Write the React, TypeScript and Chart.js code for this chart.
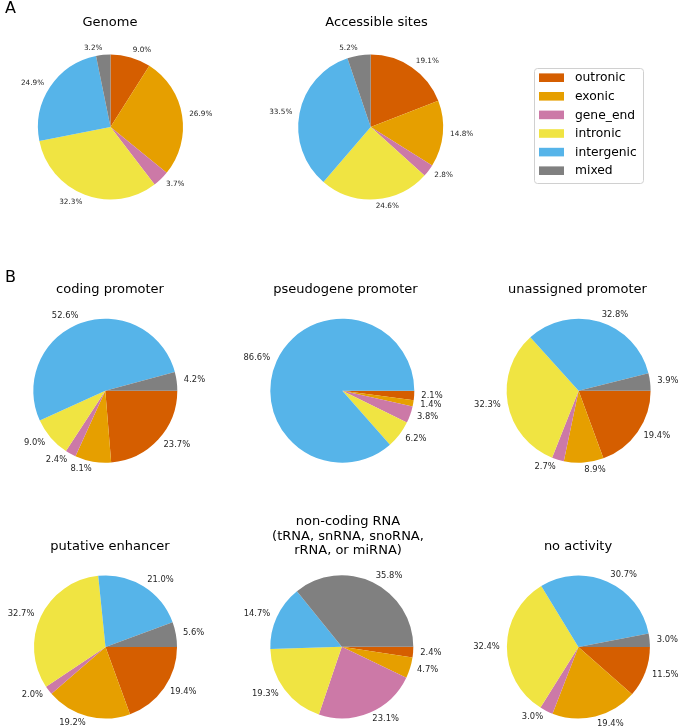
import React, { useEffect, useRef } from "react";
import { Chart, registerables } from "chart.js";

Chart.register(...registerables);

// ---------- data ----------
const categories = ["outronic", "exonic", "gene_end", "intronic", "intergenic", "mixed"];
const categoryColors = ["#D55E00", "#E69F00", "#CC79A7", "#F0E442", "#56B4E9", "#808080"];

const genome = [9.0, 26.9, 3.7, 32.3, 24.9, 3.2];
const accessibleSites = [19.1, 14.8, 2.8, 24.6, 33.5, 5.2];
const codingPromoter = [23.7, 8.1, 2.4, 9.0, 52.6, 4.2];
const pseudogenePromoter = [2.1, 1.4, 3.8, 6.2, 86.6, 0];
const unassignedPromoter = [19.4, 8.9, 2.7, 32.3, 32.8, 3.9];
const putativeEnhancer = [19.4, 19.2, 2.0, 32.7, 21.0, 5.6];
const nonCodingRna = [2.4, 4.7, 23.1, 19.3, 14.7, 35.8];
const noActivity = [11.5, 19.4, 3.0, 32.4, 30.7, 3.0];

// ---------- layout ----------
const W = 679;
const H = 726;
const FONT = "'DejaVu Sans', 'Liberation Sans', sans-serif";

type TextItem = { text: string; x: number; y: number; size: number };

type Panel = {
  id: string;
  data: number[];
  cx: number;
  cy: number;
  r: number;
  rotation: number;
  pctSize: number;
  texts: TextItem[];
  legend?: boolean;
};

const panels: Panel[] = [
  {
    id: "genome",
    data: genome,
    cx: 110.5,
    cy: 127,
    r: 72.5,
    rotation: 0,
    pctSize: 7.3,
    texts: [
      { text: "A", x: 5, y: 13, size: 16 },
      { text: "Genome", x: 110, y: 26, size: 13 },
    ],
  },
  {
    id: "accessible",
    data: accessibleSites,
    cx: 370.7,
    cy: 127,
    r: 72.5,
    rotation: 0,
    pctSize: 7.3,
    texts: [{ text: "Accessible sites", x: 376.5, y: 26, size: 13 }],
    legend: true,
  },
  {
    id: "coding",
    data: codingPromoter,
    cx: 105.3,
    cy: 390.7,
    r: 72,
    rotation: 90,
    pctSize: 8.4,
    texts: [
      { text: "B", x: 5, y: 282, size: 16 },
      { text: "coding promoter", x: 110, y: 292.5, size: 13 },
    ],
  },
  {
    id: "pseudogene",
    data: pseudogenePromoter,
    cx: 342.3,
    cy: 390.7,
    r: 72,
    rotation: 90,
    pctSize: 8.4,
    texts: [{ text: "pseudogene promoter", x: 345.5, y: 292.5, size: 13 }],
  },
  {
    id: "unassigned",
    data: unassignedPromoter,
    cx: 578.6,
    cy: 390.7,
    r: 72,
    rotation: 90,
    pctSize: 8.4,
    texts: [{ text: "unassigned promoter", x: 577.5, y: 292.5, size: 13 }],
  },
  {
    id: "enhancer",
    data: putativeEnhancer,
    cx: 105.5,
    cy: 647,
    r: 71.5,
    rotation: 90,
    pctSize: 8.4,
    texts: [{ text: "putative enhancer", x: 110, y: 550, size: 13 }],
  },
  {
    id: "ncrna",
    data: nonCodingRna,
    cx: 341.8,
    cy: 646.8,
    r: 71.5,
    rotation: 90,
    pctSize: 8.4,
    texts: [
      { text: "non-coding RNA", x: 348, y: 525, size: 13 },
      { text: "(tRNA, snRNA, snoRNA,", x: 348, y: 539.5, size: 13 },
      { text: "rRNA, or miRNA)", x: 348, y: 554, size: 13 },
    ],
  },
  {
    id: "noactivity",
    data: noActivity,
    cx: 578.4,
    cy: 647,
    r: 71.5,
    rotation: 90,
    pctSize: 8.4,
    texts: [{ text: "no activity", x: 578, y: 550, size: 13 }],
  },
];

const pieTextPlugin = {
  id: "pieText",
  afterDraw(chart: any, _args: any, opts: any) {
    const ctx = chart.ctx as CanvasRenderingContext2D;
    const meta = chart.getDatasetMeta(0);
    const values = chart.data.datasets[0].data as number[];
    ctx.save();
    // percentage labels (outside, matplotlib-like labeldistance 1.1)
    ctx.font = `${opts.pctSize}px ${FONT}`;
    ctx.fillStyle = "#262626";
    ctx.textBaseline = "middle";
    meta.data.forEach((arc: any, i: number) => {
      const v = values[i];
      if (!v) return;
      const p = arc.getProps(["x", "y", "startAngle", "endAngle", "outerRadius"], true);
      const mid = (p.startAngle + p.endAngle) / 2;
      const c = Math.cos(mid);
      const s = Math.sin(mid);
      const d = p.outerRadius * 1.1;
      ctx.textAlign = c > 0 ? "left" : "right";
      ctx.fillText(v.toFixed(1) + "%", p.x + c * d, p.y + s * d);
    });
    // titles and panel letters
    ctx.fillStyle = "#000";
    ctx.textBaseline = "alphabetic";
    (opts.texts as TextItem[]).forEach((t) => {
      ctx.font = `${t.size}px ${FONT}`;
      ctx.textAlign = t.text.length === 1 ? "left" : "center";
      ctx.fillText(t.text, t.x, t.y);
    });
    // legend
    if (opts.legend) {
      const lx = 534.5, ly = 68.5, lw = 109, lh = 115;
      ctx.fillStyle = "rgba(255,255,255,0.8)";
      ctx.strokeStyle = "#d0d0d0";
      ctx.lineWidth = 1;
      ctx.beginPath();
      if ((ctx as any).roundRect) (ctx as any).roundRect(lx, ly, lw, lh, 3);
      else ctx.rect(lx, ly, lw, lh);
      ctx.fill();
      ctx.stroke();
      ctx.font = `12.3px ${FONT}`;
      ctx.textAlign = "left";
      ctx.textBaseline = "middle";
      categories.forEach((name, i) => {
        const yc = 77.7 + i * 18.6;
        ctx.fillStyle = categoryColors[i];
        ctx.fillRect(539, yc - 4.3, 25, 8.6);
        ctx.fillStyle = "#000";
        ctx.fillText(name, 575, yc + 0.5);
      });
    }
    ctx.restore();
  },
};

function PieCanvas({ panel }: { panel: Panel }) {
  const ref = useRef<HTMLCanvasElement | null>(null);
  useEffect(() => {
    if (!ref.current) return;
    const chart = new Chart(ref.current, {
      type: "pie",
      data: {
        labels: categories,
        datasets: [
          {
            data: panel.data,
            backgroundColor: categoryColors,
            borderWidth: 0,
            hoverOffset: 0,
          },
        ],
      },
      options: {
        responsive: false,
        animation: false,
        rotation: panel.rotation,
        layout: {
          padding: {
            left: panel.cx - panel.r,
            top: panel.cy - panel.r,
            right: W - panel.cx - panel.r,
            bottom: H - panel.cy - panel.r,
          },
        },
        events: [],
        plugins: {
          legend: { display: false },
          title: { display: false },
          tooltip: { enabled: false },
          pieText: { texts: panel.texts, legend: !!panel.legend, pctSize: panel.pctSize },
        } as any,
      },
      plugins: [pieTextPlugin as any],
    });
    return () => chart.destroy();
  }, [panel]);
  return (
    <canvas
      ref={ref}
      width={W}
      height={H}
      style={{ position: "absolute", left: 0, top: 0, width: W, height: H }}
    />
  );
}

export default function App() {
  return (
    <div
      style={{
        position: "absolute",
        left: 0,
        top: 0,
        width: W,
        height: H,
        background: "#fff",
        overflow: "hidden",
      }}
    >
      {panels.map((p) => (
        <PieCanvas key={p.id} panel={p} />
      ))}
    </div>
  );
}
